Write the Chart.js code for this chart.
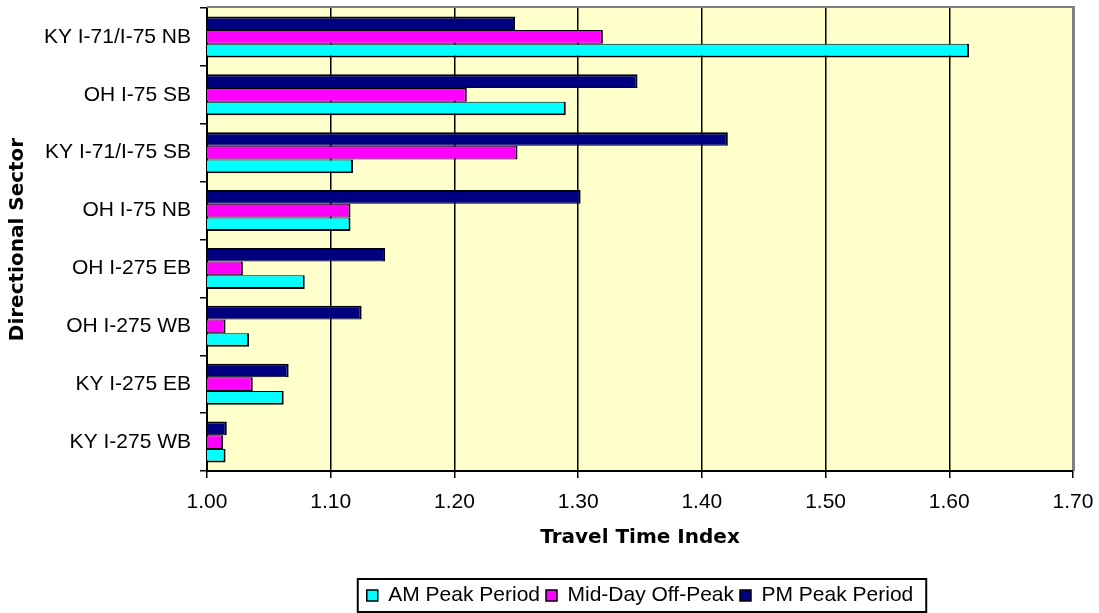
<!DOCTYPE html>
<html>
<head>
<meta charset="utf-8">
<title>Travel Time Index by Directional Sector</title>
<script src="https://cdn.jsdelivr.net/npm/chart.js@4.4.1/dist/chart.umd.min.js"></script>
<style>
  html, body { margin: 0; padding: 0; background: #ffffff; }
  canvas { display: block; }
</style>
</head>
<body>
<canvas id="tti" width="1099" height="613"></canvas>
<script>
// Directional sectors, listed top to bottom
const sections = [
  'KY I-71/I-75 NB', 'OH I-75 SB', 'KY I-71/I-75 SB', 'OH I-75 NB',
  'OH I-275 EB', 'OH I-275 WB', 'KY I-275 EB', 'KY I-275 WB'
];

// Travel time index per period
const pmPeak = [1.249, 1.348, 1.421, 1.302, 1.144, 1.125, 1.066, 1.016];
const midDay = [1.320, 1.210, 1.251, 1.116, 1.029, 1.015, 1.037, 1.013];
const amPeak = [1.616, 1.290, 1.118, 1.116, 1.079, 1.034, 1.062, 1.015];

// Value axis range and step
const xMin = 1.0;
const xMax = 1.7;
const xStep = 0.1;

const tickFont = { family: 'Liberation Sans', size: 21 };
const titleFont = { family: 'DejaVu Sans', size: 20, weight: 'bold' };

// Plot background, gray frame and the boxed legend
const plotFrame = {
  id: 'plotFrame',
  beforeLayout(chart) {
    const lg = chart.legend;
    if (lg && !lg._fixedHeight) {
      const fit = lg.fit;
      lg.fit = function () { fit.call(this); this.height = 34; };
      lg._fixedHeight = true;
    }
  },
  beforeDraw(chart) {
    const { ctx, chartArea: a } = chart;
    ctx.save();
    ctx.fillStyle = '#FFFFCC';
    ctx.fillRect(a.left, a.top, a.right - a.left, a.bottom - a.top);
    ctx.restore();
  },
  afterDraw(chart) {
    const { ctx, chartArea: a } = chart;
    ctx.save();
    ctx.strokeStyle = '#808080';
    ctx.lineWidth = 2;
    ctx.beginPath();
    ctx.moveTo(a.left, a.top - 1);
    ctx.lineTo(a.right + 1, a.top - 1);
    ctx.lineTo(a.right + 1, a.bottom);
    ctx.stroke();

    const hb = chart.legend && chart.legend.legendHitBoxes;
    if (hb && hb.length) {
      const left = Math.min(...hb.map(h => h.left)) - 9;
      const right = Math.max(...hb.map(h => h.left + h.width)) + 13;
      const top = chart.legend.top;
      const bottom = chart.height - 1;
      ctx.strokeStyle = '#000000';
      ctx.lineWidth = 2;
      ctx.strokeRect(left, top, right - left, bottom - top);
    }
    ctx.restore();
  }
};

new Chart(document.getElementById('tti'), {
  type: 'bar',
  data: {
    labels: sections,
    datasets: [
      {
        label: 'PM Peak Period',
        data: pmPeak,
        backgroundColor: '#000080',
        borderColor: '#000000',
        borderWidth: { top: 2, right: 2, bottom: 1, left: 0 }
      },
      {
        label: 'Mid-Day Off-Peak',
        data: midDay,
        backgroundColor: '#FF00FF',
        borderColor: '#000000',
        borderWidth: { top: 1, right: 2, bottom: 1, left: 0 }
      },
      {
        label: 'AM Peak Period',
        data: amPeak,
        backgroundColor: '#00FFFF',
        borderColor: '#000000',
        borderWidth: { top: 1, right: 2, bottom: 2, left: 0 }
      }
    ]
  },
  options: {
    indexAxis: 'y',
    responsive: false,
    animation: false,
    events: [],
    layout: { padding: { top: 8, right: 26, bottom: 0, left: 0 } },
    datasets: {
      bar: { categoryPercentage: 0.708, barPercentage: 1.0, borderSkipped: 'start' }
    },
    scales: {
      x: {
        type: 'linear',
        position: 'bottom',
        min: xMin,
        max: xMax,
        afterFit(scale) {
          scale.height = 108;
          scale.paddingLeft = 0;
          scale.paddingRight = 0;
        },
        ticks: {
          stepSize: xStep,
          maxRotation: 0,
          padding: 12,
          color: '#000000',
          font: tickFont,
          callback: v => Number(v).toFixed(2)
        },
        grid: {
          color: c => (c.tick && c.tick.value > xMax - 0.001) ? '#808080' : '#000000',
          lineWidth: 1.5,
          drawTicks: true,
          tickLength: 7,
          tickColor: '#000000'
        },
        border: { color: '#000000', width: 2 },
        title: {
          display: true,
          text: 'Travel Time Index',
          color: '#000000',
          font: titleFont,
          padding: { top: 0, bottom: 29 }
        }
      },
      y: {
        type: 'category',
        afterFit(scale) {
          scale.width = 207;
          scale.paddingTop = 0;
          scale.paddingBottom = 0;
        },
        ticks: { color: '#000000', font: tickFont, padding: 9 },
        grid: {
          offset: true,
          drawOnChartArea: false,
          drawTicks: true,
          tickLength: 7,
          tickColor: '#000000',
          lineWidth: 1.5
        },
        border: { color: '#000000', width: 2 },
        title: {
          display: true,
          text: 'Directional Sector',
          color: '#000000',
          font: titleFont,
          padding: { top: 6, bottom: 0 }
        }
      }
    },
    plugins: {
      tooltip: { enabled: false },
      legend: {
        position: 'bottom',
        fullSize: false,
        reverse: true,
        labels: {
          boxWidth: 11,
          boxHeight: 11,
          padding: 6,
          color: '#000000',
          font: tickFont,
          generateLabels(chart) {
            return Chart.defaults.plugins.legend.labels.generateLabels(chart)
              .map(item => Object.assign({}, item, { lineWidth: 1.5, strokeStyle: '#000000' }));
          }
        }
      }
    }
  },
  plugins: [plotFrame]
});
</script>
</body>
</html>
